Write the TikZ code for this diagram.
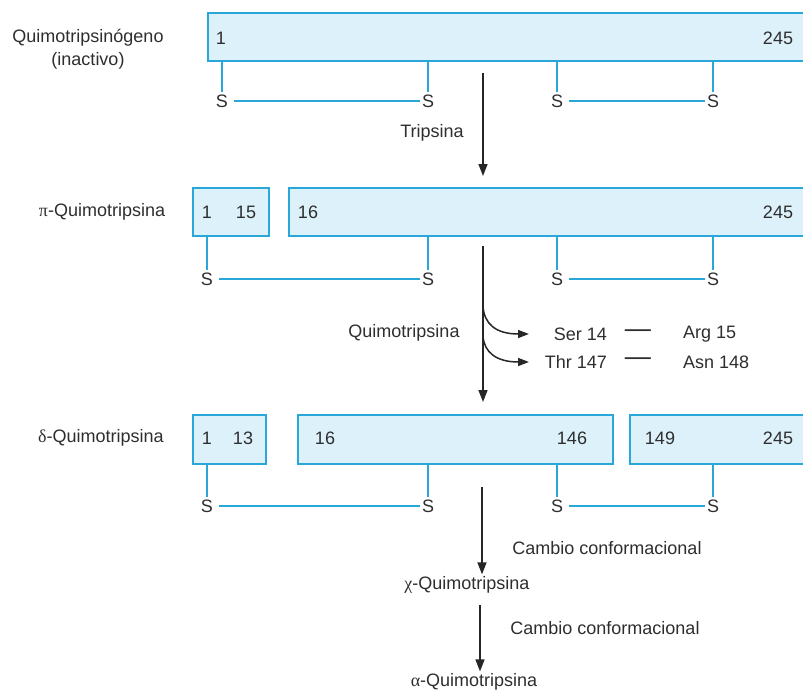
\documentclass[tikz,border=0pt]{standalone}
\usepackage{fontspec}
\setmainfont{Liberation Sans}
\newfontfamily\grk{Liberation Serif}
\usetikzlibrary{arrows.meta}
\definecolor{cyanline}{HTML}{2AA7D9}
\definecolor{boxfill}{HTML}{DDF1FB}
\definecolor{txt}{HTML}{2E2E2E}
\begin{document}
\begin{tikzpicture}[x=1pt,y=-1pt,
  every node/.style={font=\fontsize{18}{21}\selectfont, text=txt, inner sep=2pt},
  box/.style={draw=cyanline, fill=boxfill, line width=2pt, anchor=north west, inner sep=0pt},
  bond/.style={draw=cyanline, line width=2pt},
  sss/.style={inner sep=2pt},
  arr/.style={draw=black!85, line width=1.5pt, -{Triangle[width=9pt,length=12pt]}},
  curv/.style={draw=black!85, line width=1.5pt, -{Triangle[width=8pt,length=11pt]}}
]
\useasboundingbox (0,0) rectangle (803,690);
\clip (0,0) rectangle (803,690);

% ---------- Row 1 : quimotripsinogeno ----------
\node[box, minimum width=610pt, minimum height=48pt] (b1) at (207,12) {};
\node (l1a) at (88,38) {Quimotripsinógeno};
\node (l1b) at (88,61) {(inactivo)};
\node (n1a) at (221,38) {1};
\node (n1b) at (778,38) {245};
\node[sss] (s1a) at (222,101) {S};
\node[sss] (s1b) at (428,101) {S};
\node[sss] (s1c) at (557,101) {S};
\node[sss] (s1d) at (713,101) {S};
\foreach \s in {s1a,s1b,s1c,s1d} \draw[bond] (\s.north) -- (\s.north |- b1.south);
\draw[bond] (s1a.east) ++(4,0) coordinate (c1a) -- (c1a -| s1b.west);
\draw[bond] (s1c.east) ++(4,0) coordinate (c1c) -- (c1c -| s1d.west);

\coordinate (a1s) at (483,73);
\coordinate (a1e) at (483,176);
\draw[arr] (a1s) -- (a1e);
\node (tr) at (432,133) {Tripsina};

% ---------- Row 2 : pi ----------
\node[box, minimum width=76pt, minimum height=48pt] (b2a) at (192,187) {};
\node[box, minimum width=525pt, minimum height=48pt] (b2b) at (288,187) {};
\node (l2) at (102,212) {{\grk π}-Quimotripsina};
\node (n2a) at (207,212) {1};
\node (n2b) at (246,212) {15};
\node (n2c) at (308,212) {16};
\node (n2d) at (778,212) {245};
\node[sss] (s2a) at (207,279) {S};
\node[sss] (s2b) at (428,279) {S};
\node[sss] (s2c) at (557,279) {S};
\node[sss] (s2d) at (713,279) {S};
\draw[bond] (s2a.north) -- (s2a.north |- b2a.south);
\foreach \s in {s2b,s2c,s2d} \draw[bond] (\s.north) -- (\s.north |- b2b.south);
\draw[bond] (s2a.east) ++(4,0) coordinate (c2a) -- (c2a -| s2b.west);
\draw[bond] (s2c.east) ++(4,0) coordinate (c2c) -- (c2c -| s2d.west);

\coordinate (a2s) at (483,246);
\coordinate (a2e) at (483,402);
\draw[arr] (a2s) -- (a2e);
\coordinate (k1) at (483,306);
\coordinate (k2) at (483,336);
\coordinate (t1) at (529,334);
\coordinate (t2) at (529,362);
\draw[curv] (k1) .. controls (484,324) and (496,334) .. (t1);
\draw[curv] (k2) .. controls (484,352) and (496,362) .. (t2);
\node (qt) at (404,333) {Quimotripsina};
\node[anchor=east, inner sep=0pt] (ser) at (607,334) {Ser 14};
\node (d1) at (638,334) {\scalebox{1.45}[1.5]{—}};
\node[anchor=west, inner sep=0pt] (arg) at (683,334) {Arg 15};
\node[anchor=east, inner sep=0pt] (thr) at (607,362) {Thr 147};
\node (d2) at (638,362) {\scalebox{1.45}[1.5]{—}};
\node[anchor=west, inner sep=0pt] (asn) at (683,362) {Asn 148};

% ---------- Row 3 : delta ----------
\node[box, minimum width=73pt, minimum height=49pt] (b3a) at (192,414) {};
\node[box, minimum width=315pt, minimum height=49pt] (b3b) at (297,414) {};
\node[box, minimum width=185pt, minimum height=49pt] (b3c) at (629,414) {};
\node (l3) at (101,438) {{\grk δ}-Quimotripsina};
\node (n3a) at (207,438) {1};
\node (n3b) at (243,438) {13};
\node (n3c) at (325,438) {16};
\node (n3d) at (572,438) {146};
\node (n3e) at (660,438) {149};
\node (n3f) at (778,438) {245};
\node[sss] (s3a) at (207,506) {S};
\node[sss] (s3b) at (428,506) {S};
\node[sss] (s3c) at (557,506) {S};
\node[sss] (s3d) at (713,506) {S};
\draw[bond] (s3a.north) -- (s3a.north |- b3a.south);
\draw[bond] (s3b.north) -- (s3b.north |- b3b.south);
\draw[bond] (s3c.north) -- (s3c.north |- b3b.south);
\draw[bond] (s3d.north) -- (s3d.north |- b3c.south);
\draw[bond] (s3a.east) ++(4,0) coordinate (c3a) -- (c3a -| s3b.west);
\draw[bond] (s3c.east) ++(4,0) coordinate (c3c) -- (c3c -| s3d.west);

% ---------- Final steps ----------
\coordinate (a3s) at (482,487);
\node (chi) at (467,585) {{\grk χ}-Quimotripsina};
\node (cc1) at (607,548) {Cambio conformacional};
\draw[arr] (a3s) -- (a3s |- chi.north);
\coordinate (a4s) at (480,605);
\node (alpha) at (474,682) {{\grk α}-Quimotripsina};
\node (cc2) at (605,628) {Cambio conformacional};
\draw[arr] (a4s) -- (a4s |- alpha.north);
\end{tikzpicture}
\end{document}
